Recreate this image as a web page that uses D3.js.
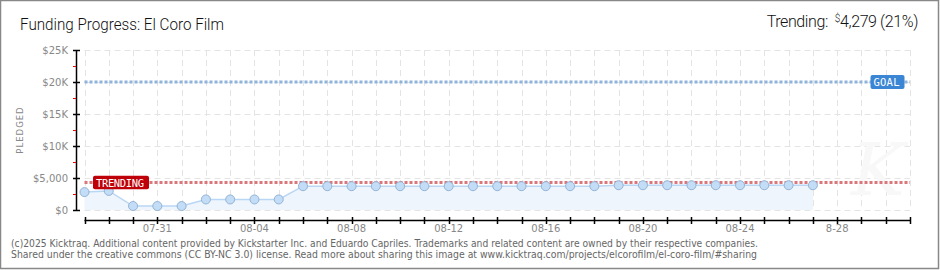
<!DOCTYPE html>
<html><head><meta charset="utf-8">
<script src="https://cdn.jsdelivr.net/npm/d3@7"></script>
<style>body{margin:0;background:#fff}svg{display:block}</style>
</head><body><svg id="c" width="940" height="270"></svg>
<script>
const startDate = "2025-07-28";
const endDate = "2025-08-31";
const pledged = [2800, 2980, 620, 620, 620, 1650, 1650, 1650, 1650, 3720, 3720, 3720, 3720, 3720, 3720, 3720, 3720, 3720, 3720, 3720, 3720, 3720, 3870, 3870, 3870, 3870, 3870, 3870, 3870, 3870, 3870];
const goal = 20000;
const trending = 4279;
const yTicks = [0, 5000, 10000, 15000, 20000, 25000];
const yTickLabels = ["$0", "$5,000", "$10K", "$15K", "$20K", "$25K"];
const xLabelDates = ["2025-07-31","2025-08-04","2025-08-08","2025-08-12","2025-08-16","2025-08-20","2025-08-24","2025-08-28"];
const xLabelTexts = ["07-31","08-04","08-08","08-12","08-16","08-20","08-24","8-28"];
const titleText = "Funding Progress: El Coro Film";
const trendLabel = "Trending:";
const trendValue = "4,279 (21%)";
const footer = ["(c)2025 Kicktraq. Additional content provided by Kickstarter Inc. and Eduardo Capriles. Trademarks and related content are owned by their respective companies.",
"Shared under the creative commons (CC BY-NC 3.0) license. Read more about sharing this image at www.kicktraq.com/projects/elcorofilm/el-coro-film/#sharing"];

const parse = d3.utcParse("%Y-%m-%d");
const t0 = parse(startDate), t1 = parse(endDate);
const days = d3.utcDay.range(t0, d3.utcDay.offset(t1,1));
const data = pledged.map((v,i)=>({date:d3.utcDay.offset(t0,i), v}));

const svg = d3.select("#c");
const x = d3.scaleUtc().domain([t0,t1]).range([84.5,910]);
const y = d3.scaleLinear().domain([0,25000]).range([210,50]);

// frame
svg.append("rect").attr("x",0.5).attr("y",0.5).attr("width",938).attr("height",268)
  .attr("fill","#fff").attr("stroke","#888").attr("stroke-width",1.5);

// grid
const g = svg.append("g");
g.selectAll(".vg").data(days).join("line")
  .attr("x1",d=>Math.round(x(d))+0.5).attr("x2",d=>Math.round(x(d))+0.5)
  .attr("y1",y(25000)).attr("y2",y(0))
  .attr("stroke","#e4e4e4").attr("stroke-dasharray","6,4");
g.selectAll(".hg").data(yTicks).join("line")
  .attr("x1",x(t0)).attr("x2",x(t1))
  .attr("y1",d=>Math.round(y(d))+0.5).attr("y2",d=>Math.round(y(d))+0.5)
  .attr("stroke","#e4e4e4").attr("stroke-dasharray","6,4");

// watermark
svg.append("text").attr("x",878).attr("y",195).attr("text-anchor","middle")
  .attr("font-family","DejaVu Serif").attr("font-style","italic").attr("font-size",72)
  .attr("fill","#f8f8f8").text("K");

// area + line
svg.append("path").datum(data)
  .attr("d",d3.area().x(d=>x(d.date)).y0(y(0)).y1(d=>y(d.v)))
  .attr("fill","#eef5fd");
svg.append("path").datum(data)
  .attr("d",d3.line().x(d=>x(d.date)).y(d=>y(d.v)))
  .attr("fill","none").attr("stroke","#b9d6f5").attr("stroke-width",1.5);

// goal & trend lines
svg.append("line").attr("x1",x(t0)).attr("x2",x(t1)).attr("y1",y(goal)).attr("y2",y(goal))
  .attr("stroke","#8fb3dc").attr("stroke-width",3).attr("stroke-dasharray","3,2");
svg.append("line").attr("x1",x(t0)).attr("x2",x(t1)).attr("y1",y(trending)).attr("y2",y(trending))
  .attr("stroke","#d9777b").attr("stroke-width",3).attr("stroke-dasharray","3,2");

// points
svg.selectAll(".pt").data(data).join("circle")
  .attr("cx",d=>x(d.date)).attr("cy",d=>y(d.v)).attr("r",4.5)
  .attr("fill","#c3ddf7").attr("stroke","#93b3d6").attr("stroke-width",1);

// labels
function badge(cx0, ycen, w, h, fill, txt){
  svg.append("rect").attr("x",cx0).attr("y",ycen-h/2).attr("width",w).attr("height",h)
    .attr("rx",2).attr("fill",fill);
  svg.append("text").attr("x",cx0+3).attr("y",ycen+4).attr("fill","#fff")
    .attr("font-family","DejaVu Sans Mono").attr("font-size",10.5)
    .attr("textLength",w-8).attr("lengthAdjust","spacing")
    .text(txt);
}
badge(870.5, y(goal), 34, 14, "#3a86d4", "GOAL");
badge(93, y(trending), 56, 13.5, "#c00008", "TRENDING");

// y axis
svg.append("line").attr("x1",76.5).attr("x2",76.5).attr("y1",y(25000)).attr("y2",y(0)+0.5)
  .attr("stroke","#000").attr("stroke-width",1.5);
svg.selectAll(".yt").data(yTicks).join("line")
  .attr("x1",73).attr("x2",80).attr("y1",d=>Math.round(y(d))+0.5).attr("y2",d=>Math.round(y(d))+0.5)
  .attr("stroke","#000").attr("stroke-width",1.5);
svg.selectAll(".ym").data(yTicks.slice(0,-1).map(d=>d+2500)).join("line")
  .attr("x1",73).attr("x2",76).attr("y1",d=>Math.round(y(d))+0.5).attr("y2",d=>Math.round(y(d))+0.5)
  .attr("stroke","#e00").attr("stroke-width",1);
svg.selectAll(".yl").data(yTicks).join("text")
  .attr("x",68).attr("y",d=>y(d)+4).attr("text-anchor","end")
  .attr("font-family","DejaVu Sans").attr("font-size",10).attr("fill","#888")
  .text((d,i)=>yTickLabels[i]);
svg.append("text").attr("transform","translate(23,130) rotate(-90)").attr("text-anchor","middle")
  .attr("font-family","DejaVu Sans").attr("font-size",8.5).attr("letter-spacing",1).attr("fill","#888")
  .text("PLEDGED");

// x axis
svg.append("line").attr("x1",x(t0)).attr("x2",x(t1)+0.5).attr("y1",220.5).attr("y2",220.5)
  .attr("stroke","#000").attr("stroke-width",1.5);
svg.selectAll(".xt").data(days).join("line")
  .attr("x1",d=>Math.round(x(d))+0.5).attr("x2",d=>Math.round(x(d))+0.5).attr("y1",217).attr("y2",224)
  .attr("stroke","#000").attr("stroke-width",1.5);
svg.selectAll(".xl").data(xLabelDates).join("text")
  .attr("x",d=>x(parse(d))).attr("y",232).attr("text-anchor","middle")
  .attr("font-family","DejaVu Sans").attr("font-size",10).attr("fill","#888")
  .text((d,i)=>xLabelTexts[i]);

// titles
svg.append("text").attr("x",20).attr("y",30)
  .attr("font-family","Roboto, DejaVu Sans Condensed").attr("font-weight",300).attr("font-size",17).attr("fill","#111")
  .attr("textLength",204).attr("lengthAdjust","spacingAndGlyphs").text(titleText);
const tr = svg.append("text").attr("x",918).attr("y",27).attr("text-anchor","end")
  .attr("font-family","Roboto, DejaVu Sans Condensed").attr("font-weight",300).attr("font-size",16).attr("fill","#111")
  .attr("letter-spacing",-0.4);
tr.append("tspan").text(trendLabel);
tr.append("tspan").attr("font-size",10).attr("dx",7).attr("dy",-5).text("$");
tr.append("tspan").attr("dy",5).text(trendValue);

// footer
footer.forEach((t,i)=>{
  svg.append("text").attr("x",11).attr("y",246.5+i*11.7)
    .attr("font-family","DejaVu Sans").attr("font-size",10).attr("fill","#666")
    .attr("textLength",i===0?747:746).attr("lengthAdjust","spacingAndGlyphs").text(t);
});
</script></body></html>
